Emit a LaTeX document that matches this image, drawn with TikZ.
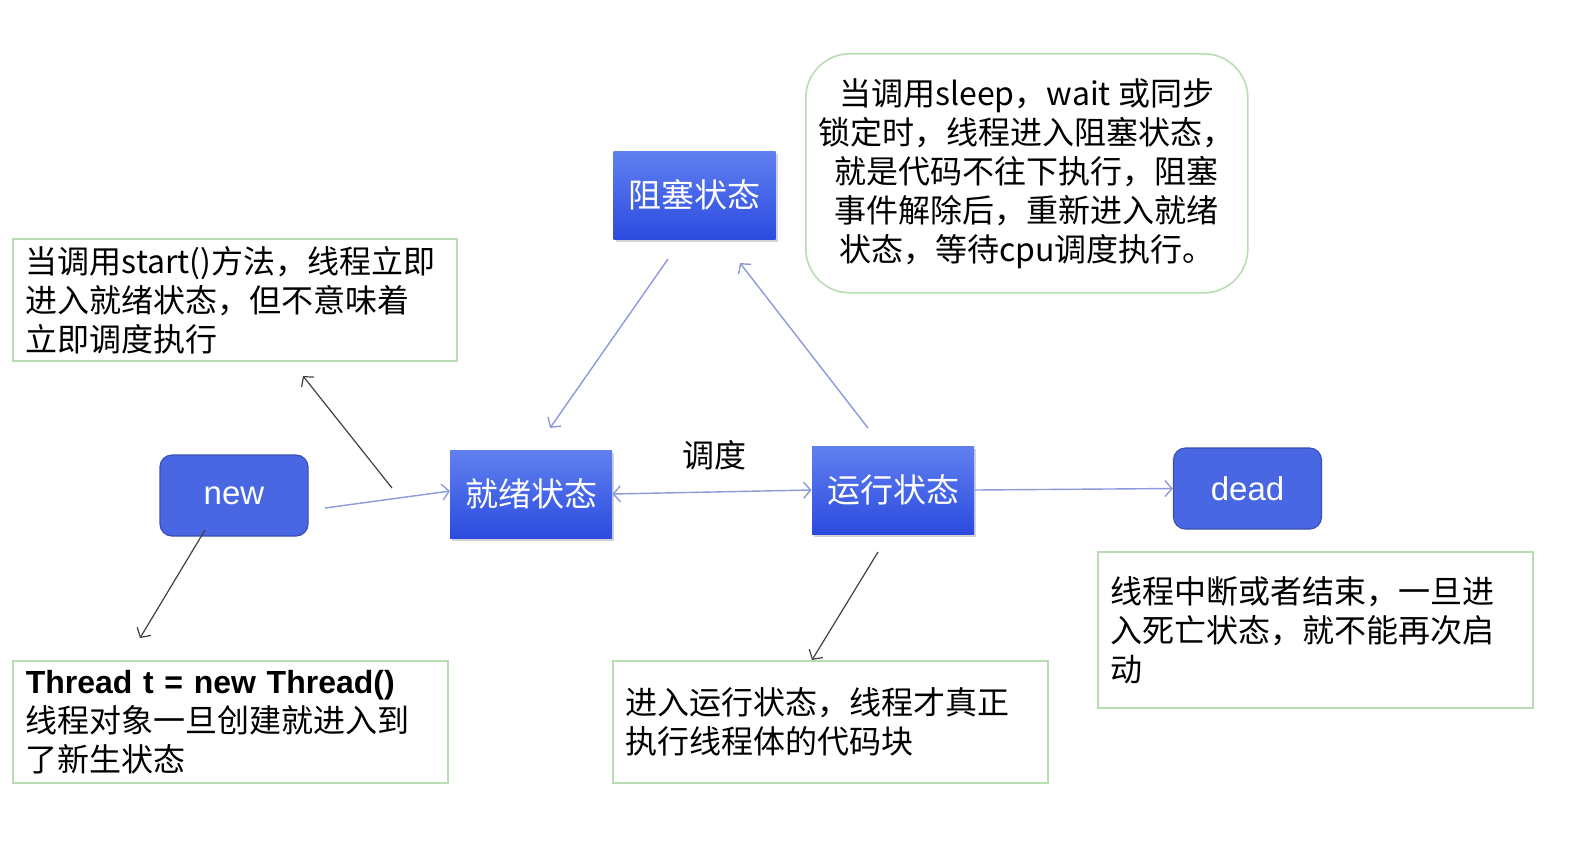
\documentclass[tikz,border=0pt]{standalone}
\usepackage{fontspec}
\setmainfont{Noto Sans CJK SC}
\newfontfamily\lat{Liberation Sans}
\usetikzlibrary{arrows.meta,shadows}
\definecolor{stateblue}{HTML}{4A67E3}
\definecolor{stateborder}{HTML}{3A4FB5}
\definecolor{gradtop}{HTML}{6080F0}
\definecolor{gradbot}{HTML}{2C4BDF}
\definecolor{notegreen}{HTML}{B8DDB2}
\definecolor{flowblue}{HTML}{8C9ADC}
\definecolor{notearrow}{HTML}{404040}
\tikzset{
  roundstate/.style={draw=stateborder, fill=stateblue, rounded corners=6pt, line width=0.6pt,
    minimum width=74pt, minimum height=40.5pt, text=white, font=\lat\fontsize{16.5}{19}\selectfont},
  gradstate/.style={top color=gradtop, bottom color=gradbot, draw=none,
    minimum width=81pt, minimum height=44pt, text=white, font=\fontsize{16.5}{19}\selectfont,
    drop shadow={shadow xshift=1.2pt, shadow yshift=-1.5pt, opacity=0.35}},
  note/.style={draw=notegreen, line width=0.8pt, align=left, inner xsep=6.5pt, inner ysep=0pt,
    font=\fontsize{16}{19.5}\selectfont, anchor=north west},
  flow/.style={draw=flowblue, line width=0.7pt},
  tip/.style={-{Straight Barb[length=3.5pt,width=8pt]}},
  notelink/.style={draw=notearrow, line width=0.6pt, -{Straight Barb[length=3.5pt,width=8pt]}}
}
\begin{document}
\begin{tikzpicture}[x=0.5pt,y=-0.5pt]
\useasboundingbox (0,0) rectangle (1572,848);

% state nodes
\node[roundstate] (new) at (234,495.5) {new};
\node[gradstate] (ready) at (531,494) {就绪状态};
\node[gradstate] (run) at (893,490) {运行状态};
\node[gradstate] (block) at (694.5,195) {阻塞状态};
\node[roundstate] (dead) at (1247.5,488.5) {dead};

\node[font=\fontsize{16}{18}\selectfont] (sched) at (714,455) {调度};

% notes
\node[note, text width=209pt, minimum height=61pt] (nstart) at (12,238)
  {当调用start()方法，线程立即\\进入就绪状态，但不意味着\\立即调度执行};
\node[note, text width=204.5pt, minimum height=61pt] (nthread) at (12,660)
  {{\lat\bfseries Thread t = new Thread()}\\线程对象一旦创建就进入到\\了新生状态};
\node[note, text width=204.5pt, minimum height=61pt] (nrun) at (612,660)
  {进入运行状态，线程才真正\\执行线程体的代码块};
\node[note, text width=204.5pt, minimum height=78pt] (ndead) at (1097,551)
  {线程中断或者结束，一旦进\\入死亡状态，就不能再次启\\动};
\node[note, align=center, rounded corners=22pt, minimum width=220.5pt, minimum height=119.5pt] (nblock) at (805,53)
  {当调用sleep，wait 或同步\\锁定时，线程进入阻塞状态，\\就是代码不往下执行，阻塞\\事件解除后，重新进入就绪\\状态，等待cpu调度执行。};

% connector end points
\coordinate (n1) at (325,508);
\coordinate (n2) at (450,491);
\coordinate (b1) at (668,259);
\coordinate (b2) at (550,428);
\coordinate (r1) at (868,428);
\coordinate (r2) at (740,263);
\coordinate (s1) at (392,488);
\coordinate (s2) at (303,376);
\coordinate (t1) at (205,530);
\coordinate (t2) at (140,638);
\coordinate (u1) at (878,552);
\coordinate (u2) at (812,660);

% state connectors
\draw[flow,tip] (n1) -- (n2);
\draw[flow,{Straight Barb[length=3.5pt,width=8pt]}-{Straight Barb[length=3.5pt,width=8pt]}] (ready.east) -- (run.west);
\draw[flow,tip] (run.east) -- (dead.west);
\draw[flow,tip] (b1) -- (b2);
\draw[flow,tip] (r1) -- (r2);

% note connectors
\draw[notelink] (s1) -- (s2);
\draw[notelink] (t1) -- (t2);
\draw[notelink] (u1) -- (u2);
\end{tikzpicture}
\end{document}
